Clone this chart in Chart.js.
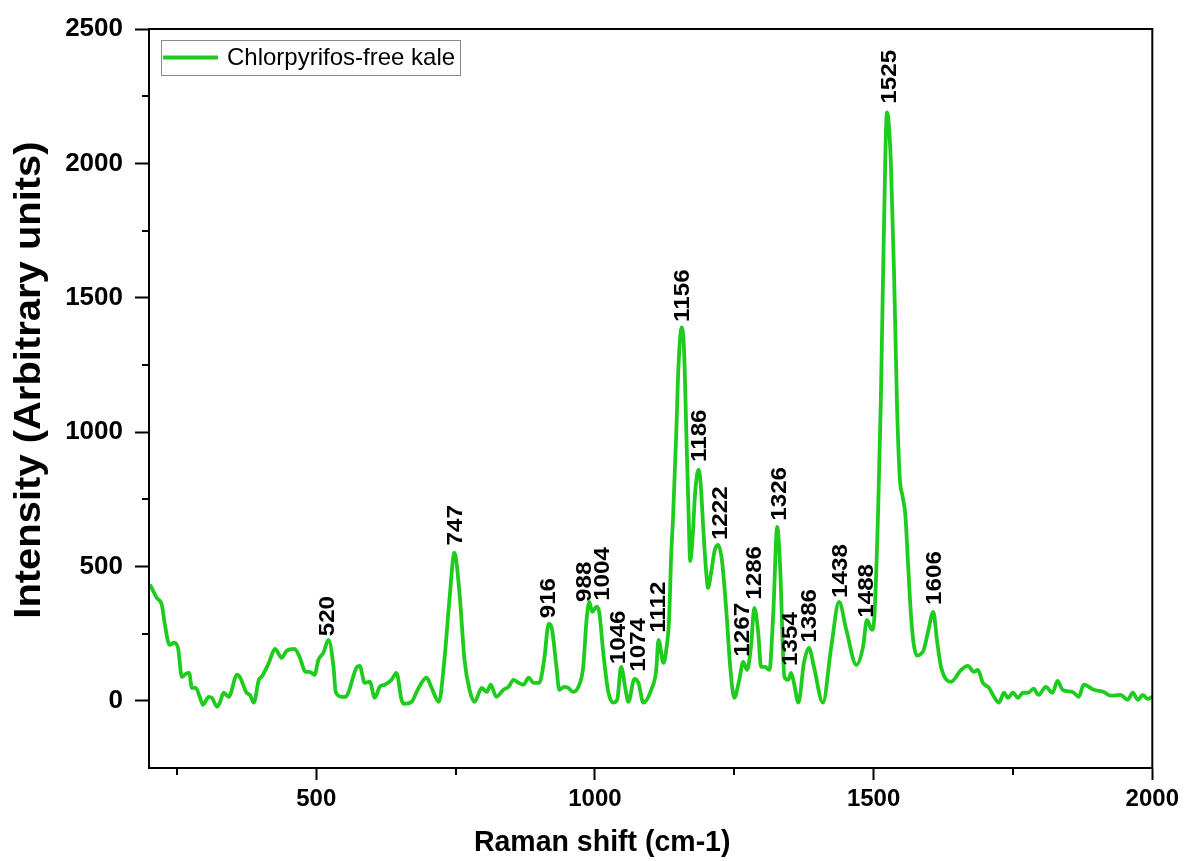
<!DOCTYPE html>
<html>
<head>
<meta charset="utf-8">
<script src="https://cdn.jsdelivr.net/npm/chart.js@4.4.1/dist/chart.umd.min.js"></script>
<style>
html,body{margin:0;padding:0;background:#fff;}
#wrap{width:1184px;height:861px;position:relative;}
</style>
</head>
<body>
<div id="wrap"><canvas id="c" width="1184" height="861"></canvas></div>
<script>
// ---- data ----
const ramanShift = [202,214,223,228,237,245,252,259,266,272,277,284,291,297,307,313,322,327,334,343,358,363,375,381,388,397,402,415,426,438,447,461,470,481,488,497,504,513,522,531,535,546,553,558,573,578,587,596,605,614,623,635,644,653,657,671,680,689,698,707,720,730,739,748,757,766,775,784,797,806,813,823,836,845,854,863,872,881,890,900,909,917,922,931,936,945,952,961,972,979,985,990,995,1003,1008,1015,1024,1033,1040,1047,1055,1060,1071,1078,1087,1101,1110,1114,1123,1128,1133,1137,1140,1146,1150,1156,1160,1164,1168,1171,1175,1180,1186,1190,1195,1200,1203,1208,1215,1221,1228,1236,1243,1250,1259,1266,1273,1280,1286,1293,1298,1305,1313,1320,1327,1332,1340,1347,1352,1357,1365,1375,1384,1393,1409,1424,1438,1451,1469,1481,1488,1497,1501,1508,1513,1518,1524,1531,1537,1542,1547,1552,1557,1562,1567,1572,1578,1585,1590,1598,1607,1614,1621,1639,1657,1669,1680,1687,1696,1707,1716,1725,1734,1741,1750,1759,1768,1777,1787,1796,1809,1821,1830,1839,1857,1868,1877,1895,1913,1925,1943,1956,1965,1974,1983,1992,2000];
const intensity = [432,383,357,290,208,216,197,89,100,104,48,48,15,-15,15,11,-22,-7,30,15,97,89,30,22,-7,78,89,141,193,160,186,193,164,108,108,97,153,179,227,126,33,15,15,33,126,130,67,71,11,52,60,78,104,4,-11,-4,33,67,86,48,-4,153,376,551,402,153,41,-4,48,33,60,15,41,52,78,67,60,86,67,67,153,286,275,126,41,52,48,33,60,126,301,368,331,350,327,179,33,-7,4,126,41,-4,82,67,-7,41,115,227,141,190,301,551,673,1000,1250,1390,1300,1000,700,520,600,780,860,800,620,470,420,470,560,580,520,327,120,11,78,145,115,201,346,253,126,126,115,327,647,513,89,78,104,67,-7,141,197,126,-7,201,368,264,134,201,301,264,301,699,1120,1700,2190,2000,1560,1100,830,760,690,500,320,210,168,175,190,260,331,220,126,71,115,130,108,115,67,48,15,-7,30,11,30,11,30,30,45,22,52,30,74,41,33,15,60,41,33,19,22,4,30,4,22,7,15];

// peak annotations: text, x where the label sits, y (data units) of the label's base
const peakNames  = ['520','747','916','988','1004','1046','1074','1112','1156','1186','1222','1267','1286','1326','1354','1386','1438','1488','1525','1606'];
const peakLabelX = [520,748,915,980,1012,1042,1078,1113,1157,1187,1225,1264,1286,1330,1350,1384,1440,1486,1527,1608];
const peakLabelY = [240,578,307,368,372,136,108,253,1410,889,598,164,376,670,130,216,383,309,2222,357];

const xTickValues = [500,1000,1500,2000];
const xMinorTicks = [250,750,1250,1750];
const yTickValues = [0,500,1000,1500,2000,2500];
const yMinorTicks = [250,750,1250,1750,2250];

const seriesName = 'Chlorpyrifos-free kale';
const xTitle = 'Raman shift (cm-1)';
const yTitle = 'Intensity (Arbitrary units)';
const lineColor = '#1ecc1e';

const SANS = "'Liberation Sans', Arial, sans-serif";

const extras = {
  id: 'extras',
  afterDraw(chart) {
    const {ctx, chartArea: a, scales: {x, y}} = chart;
    const W = a.right - a.left, H = a.bottom - a.top;
    ctx.save();
    ctx.strokeStyle = '#000';
    ctx.lineWidth = 2;
    ctx.strokeRect(a.left, a.top, W, H);
    ctx.beginPath();
    xMinorTicks.forEach(v => { const px = Math.round(x.getPixelForValue(v)); ctx.moveTo(px, a.bottom); ctx.lineTo(px, a.bottom + 7); });
    yMinorTicks.forEach(v => { const py = Math.round(y.getPixelForValue(v)); ctx.moveTo(a.left, py); ctx.lineTo(a.left - 7, py); });
    ctx.stroke();
    // peak labels
    ctx.fillStyle = '#000';
    ctx.font = 'bold 22px ' + SANS;
    ctx.textAlign = 'left';
    ctx.textBaseline = 'middle';
    peakNames.forEach((t, i) => {
      const px = x.getPixelForValue(peakLabelX[i]);
      const py = y.getPixelForValue(peakLabelY[i]);
      ctx.save();
      ctx.translate(px, py);
      ctx.rotate(-Math.PI / 2);
      ctx.scale(1.1, 1);
      ctx.fillText(t, 0, 1);
      ctx.restore();
    });
    // axis titles
    ctx.font = 'bold 30px ' + SANS;
    ctx.textAlign = 'center';
    ctx.textBaseline = 'middle';
    ctx.save();
    ctx.translate(a.left + W * 0.4517, 843);
    ctx.scale(0.95, 1);
    ctx.fillText(xTitle, 0, 0);
    ctx.restore();
    ctx.font = 'bold 37px ' + SANS;
    ctx.save();
    ctx.translate(30, a.top + H * 0.475);
    ctx.rotate(-Math.PI / 2);
    ctx.scale(1.08, 1);
    ctx.fillText(yTitle, 0, 0);
    ctx.restore();
    // legend
    const ds = chart.data.datasets[0];
    const lx = a.left + 12, ly = a.top + 11;
    ctx.strokeStyle = '#8a8a8a';
    ctx.lineWidth = 1;
    ctx.strokeRect(lx + 0.5, ly + 0.5, 299, 35);
    ctx.strokeStyle = ds.borderColor;
    ctx.lineWidth = 4;
    ctx.beginPath();
    ctx.moveTo(lx + 2, ly + 17.5);
    ctx.lineTo(lx + 57, ly + 17.5);
    ctx.stroke();
    ctx.fillStyle = '#000';
    ctx.font = '24px ' + SANS;
    ctx.textAlign = 'left';
    ctx.textBaseline = 'middle';
    ctx.fillText(ds.label, lx + 66, ly + 18);
    ctx.restore();
  }
};

new Chart(document.getElementById('c'), {
  type: 'line',
  data: {
    labels: ramanShift,
    datasets: [{
      label: seriesName,
      data: ramanShift.map((v, i) => ({x: v, y: intensity[i]})),
      borderColor: lineColor,
      backgroundColor: lineColor,
      borderWidth: 3.8,
      pointRadius: 0,
      cubicInterpolationMode: 'monotone',
      fill: false
    }]
  },
  options: {
    responsive: false,
    animation: false,
    devicePixelRatio: 1,
    layout: {padding: {top: 29, right: 31, left: 0, bottom: 0}},
    plugins: {
      legend: {display: false},
      tooltip: {enabled: false}
    },
    scales: {
      x: {
        type: 'linear',
        min: 200, max: 2000,
        afterBuildTicks(s) { s.ticks = xTickValues.map(v => ({value: v})); },
        afterFit(s) { s.height = 93; },
        grid: {drawOnChartArea: false, drawTicks: true, tickLength: 12, tickColor: '#000', tickWidth: 2},
        border: {display: true, color: '#000', width: 2},
        ticks: {color: '#000', font: {family: SANS, size: 24, weight: 'bold'}, padding: 5, maxRotation: 0,
                callback: v => String(v)},
        title: {display: false, text: xTitle}
      },
      y: {
        type: 'linear',
        min: -250, max: 2500,
        afterBuildTicks(s) { s.ticks = yTickValues.map(v => ({value: v})); },
        afterFit(s) { s.width = 149; },
        grid: {drawOnChartArea: false, drawTicks: true, tickLength: 14, tickColor: '#000', tickWidth: 2},
        border: {display: true, color: '#000', width: 2},
        ticks: {color: '#000', font: {family: SANS, size: 26, weight: 'bold'}, padding: 12,
                callback: v => String(v)},
        title: {display: false, text: yTitle}
      }
    }
  },
  plugins: [extras]
});
</script>
</body>
</html>
